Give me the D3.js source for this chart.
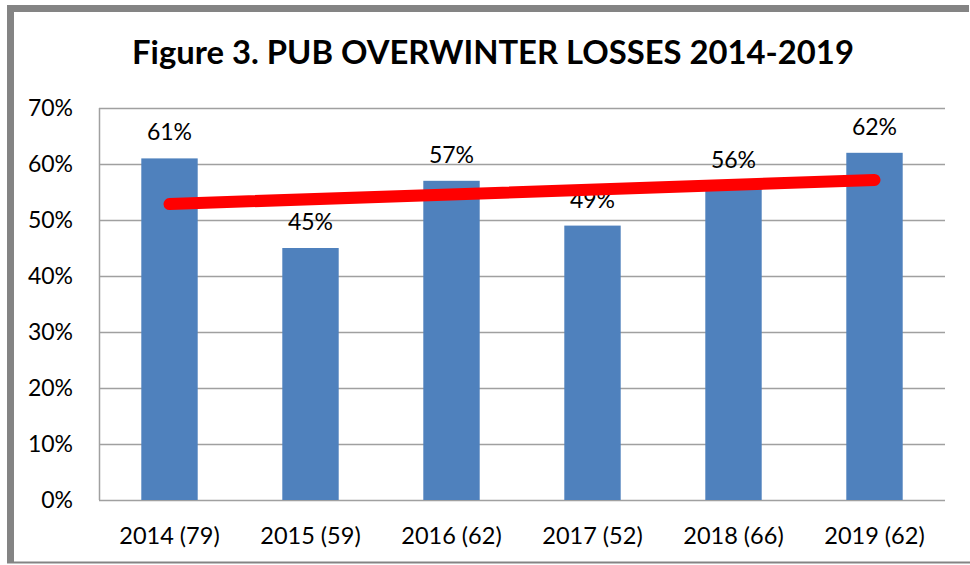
<!DOCTYPE html>
<meta charset="utf-8">
<title>PUB Overwinter Losses</title>
<style>

body {
  margin: 0;
  background: #fff;
}

text {
  font-family: Lato, "Open Sans", sans-serif;
  fill: #000;
}

</style>
<body>
<script src="https://cdn.jsdelivr.net/npm/d3@7"></script>
<script>

var categories = ["2014 (79)", "2015 (59)", "2016 (62)", "2017 (52)", "2018 (66)", "2019 (62)"],
    losses = [61, 45, 57, 49, 56, 62],
    yTicks = [0, 10, 20, 30, 40, 50, 60, 70];

var w = 970,
    h = 565,
    margin = {top: 108, right: 25, bottom: 65, left: 99};

var svg = d3.select("body").append("svg")
    .attr("width", w)
    .attr("height", h);

// chart frame
svg.append("path")
    .attr("d", "M969,8.5H10.5V562")
    .attr("fill", "none")
    .attr("stroke", "#848484")
    .attr("stroke-width", 7);

svg.append("line")
    .attr("x1", 7).attr("x2", 970)
    .attr("y1", 562.5).attr("y2", 562.5)
    .attr("stroke", "#848484")
    .attr("stroke-width", 2);

svg.append("text")
    .attr("x", 493)
    .attr("y", 64)
    .attr("text-anchor", "middle")
    .style("font-size", "32.8px")
    .style("font-weight", "bold")
    .text("Figure 3. PUB OVERWINTER LOSSES 2014-2019");

var x = d3.scaleBand()
    .domain(categories)
    .range([margin.left, w - margin.right])
    .paddingInner(0.6)
    .paddingOuter(0.3);

var y = d3.scaleLinear()
    .domain([0, 70])
    .range([h - margin.bottom, margin.top]);

// gridlines
svg.append("g")
    .selectAll("line")
    .data(yTicks)
  .enter().append("line")
    .attr("x1", margin.left)
    .attr("x2", w - margin.right)
    .attr("y1", function(d) { return Math.round(y(d)) + 0.5; })
    .attr("y2", function(d) { return Math.round(y(d)) + 0.5; })
    .attr("stroke", "#a0a0a0")
    .attr("stroke-width", 1.5);

svg.append("line")
    .attr("x1", margin.left + 0.5).attr("x2", margin.left + 0.5)
    .attr("y1", y(70)).attr("y2", y(0))
    .attr("stroke", "#a0a0a0")
    .attr("stroke-width", 1.5);

svg.append("g")
    .selectAll("text")
    .data(yTicks)
  .enter().append("text")
    .attr("x", 73)
    .attr("y", function(d) { return y(d); })
    .attr("dy", "0.36em")
    .attr("text-anchor", "end")
    .style("font-size", "23px")
    .text(function(d) { return d + "%"; });

svg.append("g")
    .selectAll("text")
    .data(categories)
  .enter().append("text")
    .attr("x", function(d) { return x(d) + x.bandwidth() / 2; })
    .attr("y", 544)
    .attr("text-anchor", "middle")
    .style("font-size", "23.5px")
    .text(function(d) { return d; });

// bars
svg.append("g")
    .selectAll("rect")
    .data(losses)
  .enter().append("rect")
    .attr("x", function(d, i) { return x(categories[i]); })
    .attr("y", function(d) { return y(d); })
    .attr("width", x.bandwidth())
    .attr("height", function(d) { return y(0) - y(d); })
    .attr("fill", "#4f81bd");

svg.append("g")
    .selectAll("text")
    .data(losses)
  .enter().append("text")
    .attr("x", function(d, i) { return x(categories[i]) + x.bandwidth() / 2; })
    .attr("y", function(d) { return y(d) - 18; })
    .attr("text-anchor", "middle")
    .style("font-size", "23px")
    .text(function(d) { return d + "%"; });

// linear trend (least squares over category index)
var n = losses.length,
    mx = d3.mean(losses, function(d, i) { return i; }),
    my = d3.mean(losses),
    sxy = d3.sum(losses, function(d, i) { return (i - mx) * (d - my); }),
    sxx = d3.sum(losses, function(d, i) { return (i - mx) * (i - mx); }),
    slope = sxy / sxx;

var trend = [0, n - 1].map(function(i) { return [i, my + slope * (i - mx)]; });

svg.append("path")
    .datum(trend)
    .attr("d", d3.line()
        .x(function(d) { return x(categories[d[0]]) + x.bandwidth() / 2; })
        .y(function(d) { return y(d[1]); }))
    .attr("fill", "none")
    .attr("stroke", "#ff0000")
    .attr("stroke-width", 12)
    .attr("stroke-linecap", "round");

</script>
